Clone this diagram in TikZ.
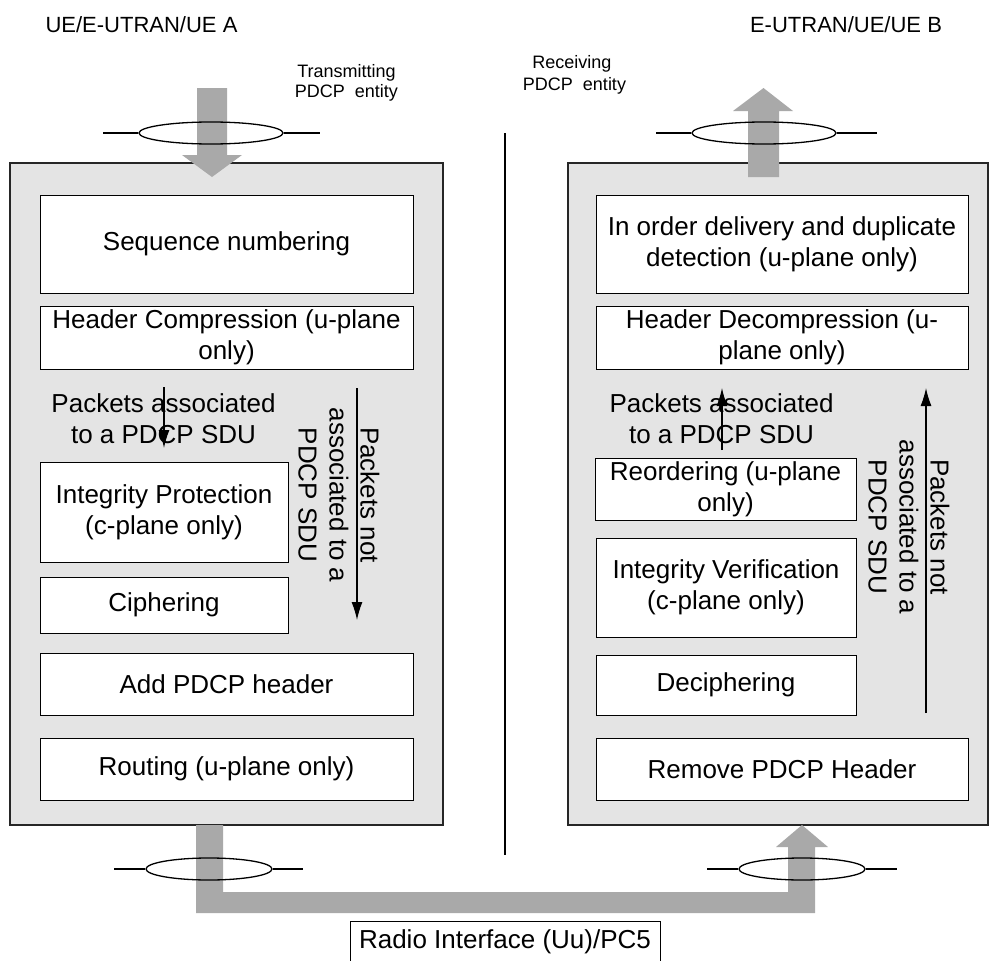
\documentclass[tikz,border=0pt]{standalone}
\usepackage{fontspec}
\setmainfont{Liberation Sans}
\usetikzlibrary{arrows.meta,shapes.geometric}
\definecolor{boxgray}{HTML}{E4E4E4}
\definecolor{arrowgray}{HTML}{A9A9A9}
\begin{document}
\begin{tikzpicture}[x=1pt,y=-1pt,
  outer/.style={draw=black!85, fill=boxgray, line width=1.5pt},
  inbox/.style={draw=black, fill=white, line width=1pt, align=center, inner sep=0pt, font=\fontsize{26}{31}\selectfont},
  lbl/.style={align=center, inner sep=0pt, font=\fontsize{26}{31}\selectfont},
  toplbl/.style={inner sep=0pt, font=\fontsize{22}{26}\selectfont},
  smalllbl/.style={inner sep=0pt, font=\fontsize{18}{20}\selectfont},
  fat/.style={fill=arrowgray, draw=none},
  thinline/.style={line width=1.3pt},
  ring/.style={draw, ellipse, line width=1.3pt, inner sep=0pt},
  flow/.style={-{Latex[length=18pt,width=11pt]}, line width=1.2pt}]
\useasboundingbox (0,0) rectangle (989,961);

% outer entity boxes
\node[outer, minimum width=433pt, minimum height=662pt, inner sep=0pt] (txbox) at (226.5,494) {};
\node[outer, minimum width=420pt, minimum height=662pt, inner sep=0pt] (rxbox) at (778,494) {};

% separator
\coordinate (septop) at (505,133);
\coordinate (sepbot) at (505,855);
\draw[line width=1.8pt] (septop) -- (sepbot);

% labels at top
\node[toplbl, anchor=base] (ueA) at (141.5,32) {UE/E-UTRAN/UE A};
\node[toplbl, anchor=base] (ueB) at (846,32) {E-UTRAN/UE/UE B};
\node[smalllbl, anchor=base] (tx1) at (346.5,77) {Transmitting};
\node[smalllbl, anchor=base] (tx2) at (346.5,97) {PDCP\ \ entity};
\node[smalllbl, anchor=base] (rx1) at (572,68) {Receiving};
\node[smalllbl, anchor=base] (rx2) at (574.5,90) {PDCP\ \ entity};

% transmitting side
\node[inbox, minimum width=373pt, minimum height=98pt] (seq) at (226.5,244) {Sequence numbering};
\node[inbox, minimum width=373pt, minimum height=63pt] (hc) at (226.5,337.5) {Header Compression (u-plane\\only)};
\node[inbox, minimum width=248pt, minimum height=100pt] (ip) at (164,512) {Integrity Protection\\(c-plane only)};
\node[inbox, minimum width=248pt, minimum height=56pt] (ciph) at (164,605) {Ciphering};
\node[inbox, minimum width=373pt, minimum height=62pt] (addh) at (226.5,684) {Add PDCP header};
\node[inbox, minimum width=373pt, minimum height=62pt] (rout) at (226.5,769) {Routing (u-plane only)};

\node[lbl] (pal) at (163.5,419) {Packets associated\\to a PDCP SDU};
\node[lbl, rotate=-90] (pnl) at (339,495) {Packets not\\associated to a\\PDCP SDU};
\coordinate (fl1s) at (164,387);
\coordinate (fl1e) at (164,448);
\coordinate (fl2s) at (357,388);
\coordinate (fl2e) at (357,620);
\draw[flow] (fl1s) -- (fl1e);
\draw[flow] (fl2s) -- (fl2e);

% receiving side
\node[inbox, minimum width=372pt, minimum height=98pt] (iod) at (782,244) {In order delivery and duplicate\\detection (u-plane only)};
\node[inbox, minimum width=372pt, minimum height=63pt] (hd) at (782,337.5) {Header Decompression (u-\\plane only)};
\node[inbox, minimum width=261pt, minimum height=62pt] (reo) at (725.5,489) {Reordering (u-plane\\only)};
\node[inbox, minimum width=260pt, minimum height=99pt] (iv) at (726,587.5) {Integrity Verification\\(c-plane only)};
\node[inbox, minimum width=260pt, minimum height=60pt] (deci) at (726,685) {Deciphering};
\node[inbox, minimum width=372pt, minimum height=62pt] (rem) at (782,769) {Remove PDCP Header};

\node[lbl] (par) at (721.5,419) {Packets associated\\to a PDCP SDU};
\node[lbl, rotate=-90] (pnr) at (909,527) {Packets not\\associated to a\\PDCP SDU};
\coordinate (fr1s) at (722,450);
\coordinate (fr1e) at (722,388);
\coordinate (fr2s) at (926,713);
\coordinate (fr2e) at (926,388);
\draw[flow] (fr1s) -- (fr1e);
\draw[flow] (fr2s) -- (fr2e);

% fat gray arrows
\fill[fat] (197,88) -- (227,88) -- (227,155) -- (242,155) -- (212,177) -- (182,155) -- (197,155) -- cycle;
\fill[fat] (748,177) -- (779,177) -- (779,111) -- (793,111) -- (763.5,88) -- (733,111) -- (748,111) -- cycle;
\fill[fat] (196,825) -- (223,825) -- (223,892) -- (788,892) -- (788,847) -- (776,847) -- (802,825)
  -- (828,847) -- (815,847) -- (815,913) -- (196,913) -- cycle;

% SAP rings
\node[ring, minimum width=144pt, minimum height=22pt] (ringTL) at (211,133) {};
\node[ring, minimum width=144pt, minimum height=22pt] (ringTR) at (764,133) {};
\node[ring, minimum width=126pt, minimum height=22pt] (ringBL) at (209,869) {};
\node[ring, minimum width=126pt, minimum height=22pt] (ringBR) at (802,869) {};
\coordinate (tlL) at (103,133); \coordinate (tlR) at (320,133);
\coordinate (trL) at (656,133); \coordinate (trR) at (877,133);
\coordinate (blL) at (114,869); \coordinate (blR) at (303,869);
\coordinate (brL) at (707,869); \coordinate (brR) at (897,869);
\draw[thinline] (tlL) -- (ringTL.west) (ringTL.east) -- (tlR);
\draw[thinline] (trL) -- (ringTR.west) (ringTR.east) -- (trR);
\draw[thinline] (blL) -- (ringBL.west) (ringBL.east) -- (blR);
\draw[thinline] (brL) -- (ringBR.west) (ringBR.east) -- (brR);

% radio interface
\draw[line width=1pt] (350,975) -- (350,921) -- (660,921) -- (660,975);
\node[lbl] (radio) at (505,942) {Radio Interface (Uu)/PC5};
\end{tikzpicture}
\end{document}
